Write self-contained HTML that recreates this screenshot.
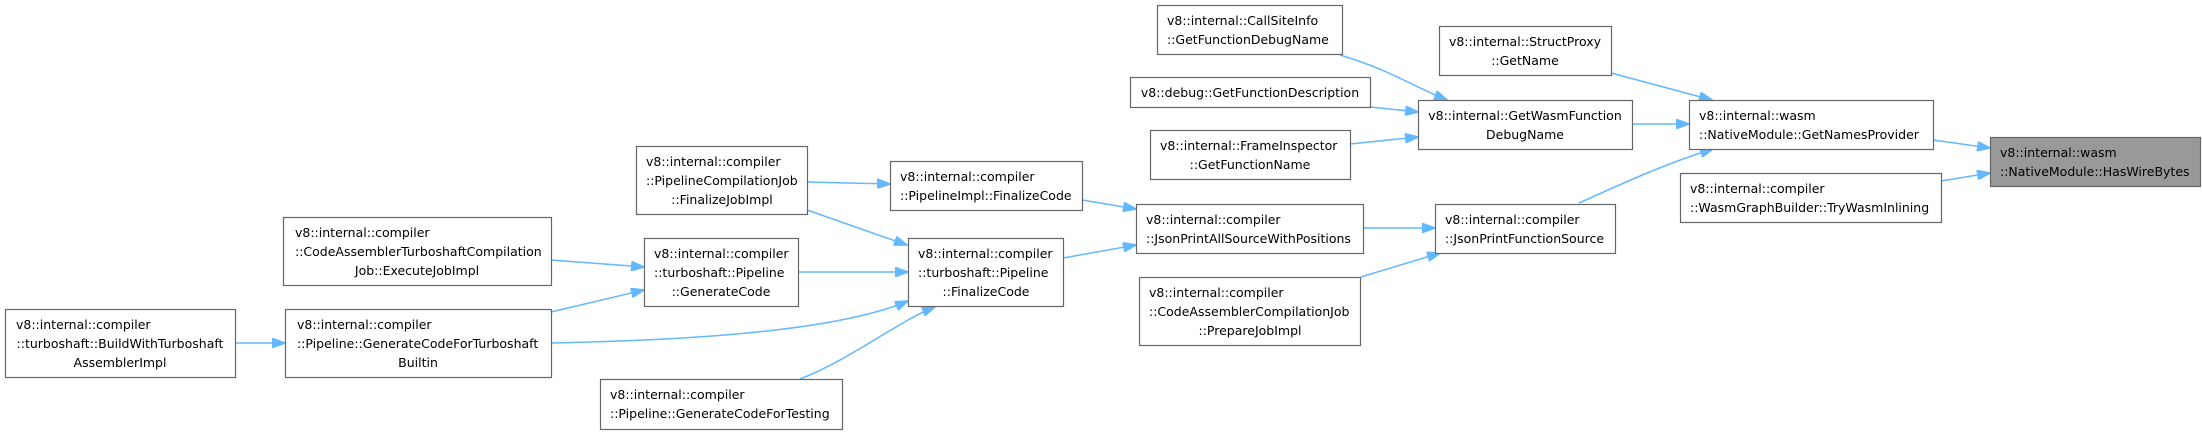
<!DOCTYPE html>
<html><head><meta charset="utf-8"><style>
body{margin:0;background:#fff;width:2202px;height:434px;overflow:hidden}
svg{display:block}
text{font-family:"DejaVu Sans","Liberation Sans",sans-serif;font-size:12.5px;fill:#000;text-anchor:middle}
rect.n{fill:#fff;stroke:#666;stroke-width:1.2}
path.e{fill:none;stroke:#63b8ff;stroke-width:1.5}
</style></head><body>
<svg width="2202" height="434" viewBox="0 0 2202 434" xmlns="http://www.w3.org/2000/svg">
<defs><marker id="a" markerWidth="14" markerHeight="10" refX="13" refY="5" orient="auto" markerUnits="userSpaceOnUse"><path d="M0,0 L14,5 L0,10 Z" fill="#63b8ff" stroke="#63b8ff"/></marker></defs>
<g>
<path class="e" marker-end="url(#a)" d="M235,343 L285,343"/>
<path class="e" marker-end="url(#a)" d="M551,312 L644,290"/>
<path class="e" marker-end="url(#a)" d="M551,260 L644,267"/>
<path class="e" marker-end="url(#a)" d="M798,272 L908,272"/>
<path class="e" marker-end="url(#a)" d="M551,343 C700,340 840,330 908,301"/>
<path class="e" marker-end="url(#a)" d="M800,379 C850,360 900,320 935,307"/>
<path class="e" marker-end="url(#a)" d="M807,182 L890,184"/>
<path class="e" marker-end="url(#a)" d="M807,210 L907,245"/>
<path class="e" marker-end="url(#a)" d="M1082,200 L1136,209"/>
<path class="e" marker-end="url(#a)" d="M1063,258 L1136,245"/>
<path class="e" marker-end="url(#a)" d="M1363,228 L1435,228"/>
<path class="e" marker-end="url(#a)" d="M1361,277 L1440,253"/>
<path class="e" marker-end="url(#a)" d="M1579,203 C1630,180 1670,162 1713,149"/>
<path class="e" marker-end="url(#a)" d="M1340,55 C1390,70 1410,85 1447,100"/>
<path class="e" marker-end="url(#a)" d="M1370,107 L1418,112"/>
<path class="e" marker-end="url(#a)" d="M1350,144 L1418,137"/>
<path class="e" marker-end="url(#a)" d="M1632,124 L1689,124"/>
<path class="e" marker-end="url(#a)" d="M1611,73 L1712,100"/>
<path class="e" marker-end="url(#a)" d="M1933,140 L1990,148"/>
<path class="e" marker-end="url(#a)" d="M1941,181 L1990,173"/>
</g>
<g>
<rect class="n" x="5.5" y="309.5" width="230" height="68"/>
<text x="120" y="329" style="text-anchor:start" transform="translate(-104,0)">v8::internal::compiler</text>
<text x="120" y="348">::turboshaft::BuildWithTurboshaft</text>
<text x="120" y="367">AssemblerImpl</text>

<rect class="n" x="285.5" y="309.5" width="266" height="68"/>
<text x="297" y="329" style="text-anchor:start">v8::internal::compiler</text>
<text x="297" y="348" style="text-anchor:start">::Pipeline::GenerateCodeForTurboshaft</text>
<text x="418" y="367">Builtin</text>

<rect class="n" x="283.5" y="217.5" width="268" height="68"/>
<text x="295" y="237" style="text-anchor:start">v8::internal::compiler</text>
<text x="295" y="256" style="text-anchor:start">::CodeAssemblerTurboshaftCompilation</text>
<text x="417" y="275">Job::ExecuteJobImpl</text>

<rect class="n" x="644.5" y="238.5" width="154" height="68"/>
<text x="654" y="258" style="text-anchor:start">v8::internal::compiler</text>
<text x="654" y="277" style="text-anchor:start">::turboshaft::Pipeline</text>
<text x="721" y="296">::GenerateCode</text>

<rect class="n" x="636.5" y="146.5" width="171" height="68"/>
<text x="646" y="166" style="text-anchor:start">v8::internal::compiler</text>
<text x="646" y="185" style="text-anchor:start">::PipelineCompilationJob</text>
<text x="722" y="204">::FinalizeJobImpl</text>

<rect class="n" x="890.5" y="161.5" width="192" height="49"/>
<text x="900" y="181" style="text-anchor:start">v8::internal::compiler</text>
<text x="900" y="200" style="text-anchor:start">::PipelineImpl::FinalizeCode</text>

<rect class="n" x="908.5" y="238.5" width="155" height="68"/>
<text x="918" y="258" style="text-anchor:start">v8::internal::compiler</text>
<text x="918" y="277" style="text-anchor:start">::turboshaft::Pipeline</text>
<text x="986" y="296">::FinalizeCode</text>

<rect class="n" x="600.5" y="379.5" width="242" height="50"/>
<text x="610" y="399" style="text-anchor:start">v8::internal::compiler</text>
<text x="610" y="418" style="text-anchor:start">::Pipeline::GenerateCodeForTesting</text>

<rect class="n" x="1157.5" y="5.5" width="185" height="49"/>
<text x="1167" y="25" style="text-anchor:start">v8::internal::CallSiteInfo</text>
<text x="1167" y="44" style="text-anchor:start">::GetFunctionDebugName</text>

<rect class="n" x="1130.5" y="77.5" width="240" height="30"/>
<text x="1250" y="97">v8::debug::GetFunctionDescription</text>

<rect class="n" x="1150.5" y="130.5" width="200" height="49"/>
<text x="1160" y="150" style="text-anchor:start">v8::internal::FrameInspector</text>
<text x="1250" y="169">::GetFunctionName</text>

<rect class="n" x="1136.5" y="204.5" width="227" height="49"/>
<text x="1146" y="224" style="text-anchor:start">v8::internal::compiler</text>
<text x="1146" y="243" style="text-anchor:start">::JsonPrintAllSourceWithPositions</text>

<rect class="n" x="1139.5" y="277.5" width="221" height="68"/>
<text x="1149" y="297" style="text-anchor:start">v8::internal::compiler</text>
<text x="1149" y="316" style="text-anchor:start">::CodeAssemblerCompilationJob</text>
<text x="1250" y="335">::PrepareJobImpl</text>

<rect class="n" x="1418.5" y="100.5" width="214" height="49"/>
<text x="1525" y="120">v8::internal::GetWasmFunction</text>
<text x="1525" y="139">DebugName</text>

<rect class="n" x="1435.5" y="204.5" width="180" height="49"/>
<text x="1445" y="224" style="text-anchor:start">v8::internal::compiler</text>
<text x="1445" y="243" style="text-anchor:start">::JsonPrintFunctionSource</text>

<rect class="n" x="1439.5" y="26.5" width="172" height="49"/>
<text x="1525" y="46">v8::internal::StructProxy</text>
<text x="1525" y="65">::GetName</text>

<rect class="n" x="1689.5" y="100.5" width="244" height="49"/>
<text x="1699" y="120" style="text-anchor:start">v8::internal::wasm</text>
<text x="1699" y="139" style="text-anchor:start">::NativeModule::GetNamesProvider</text>

<rect class="n" x="1680.5" y="173.5" width="261" height="49"/>
<text x="1690" y="193" style="text-anchor:start">v8::internal::compiler</text>
<text x="1690" y="212" style="text-anchor:start">::WasmGraphBuilder::TryWasmInlining</text>

<rect x="1990.5" y="137.5" width="210" height="49" fill="#999" stroke="#666" stroke-width="1.2"/>
<text x="2000" y="157" style="text-anchor:start">v8::internal::wasm</text>
<text x="2000" y="176" style="text-anchor:start">::NativeModule::HasWireBytes</text>
</g>
</svg>
</body></html>
